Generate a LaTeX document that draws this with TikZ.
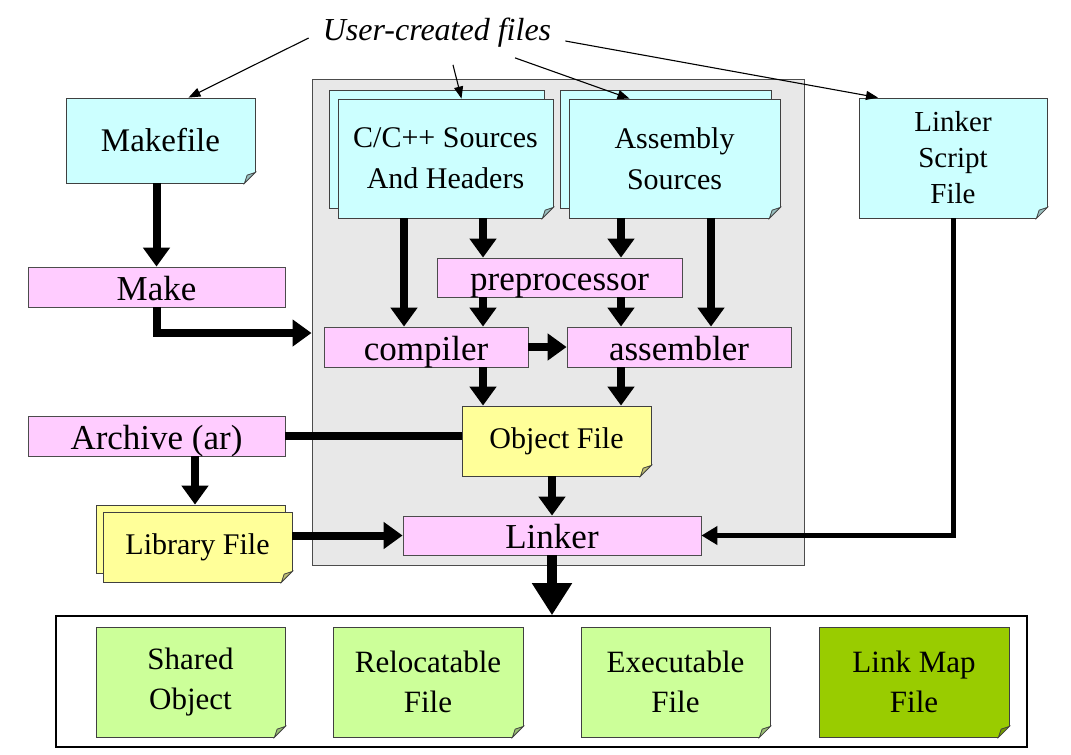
\documentclass[tikz,border=0pt]{standalone}
\usepackage{fontspec}
\setmainfont{Liberation Serif}
\usetikzlibrary{arrows.meta}

\definecolor{cyanf}{HTML}{CCFFFF}
\definecolor{pinkf}{HTML}{FFCCFF}
\definecolor{yellf}{HTML}{FFFF99}
\definecolor{grnf}{HTML}{CCFF99}
\definecolor{dgrnf}{HTML}{99CC00}
\definecolor{toolbg}{HTML}{E8E8E8}

\newlength\fw
\setlength\fw{11pt}

\tikzset{
  note/.style={draw=black!75, fill=#1, align=center, inner sep=0pt, line width=0.8pt,
    font=\fontsize{30}{41}\selectfont},
  tool/.style={draw=black!70, fill=pinkf, inner sep=0pt, line width=0.8pt,
    text height=26pt, text depth=0pt, font=\fontsize{35}{40}\selectfont},
  fat/.style={line width=8pt, -{Triangle[length=19pt,width=26pt]}},
  usr/.style={line width=1.1pt, -{Triangle[length=12pt,width=9pt]}}
}

\begin{document}
\begin{tikzpicture}[x=1pt,y=-1pt]
\useasboundingbox (0,0) rectangle (1071,755);

% tool chain area
\node[draw=black!70, line width=1pt, fill=toolbg, minimum width=492pt, minimum height=486pt] (tools) at (558,322) {};

\node[inner sep=4pt, font=\itshape\fontsize{32}{36}\selectfont] (ucf) at (437,33) {User-created files};

% user files
\node[note=cyanf, minimum width=189pt, minimum height=85pt, font=\fontsize{33}{40}\selectfont] (mkf) at (160.5,140.5) {Makefile};
\node[note=cyanf, minimum width=215pt, minimum height=118pt] (csrcb) at (436.5,149.5) {};
\node[note=cyanf, minimum width=215pt, minimum height=119pt] (csrc) at (445.5,158.5) {C/C++ Sources\\And Headers};
\node[note=cyanf, minimum width=211pt, minimum height=118pt] (asrcb) at (665.5,149.5) {};
\node[note=cyanf, minimum width=211pt, minimum height=119pt] (asrc) at (674.5,158.5) {Assembly\\Sources};
\node[note=cyanf, minimum width=188pt, minimum height=120pt, font=\fontsize{29}{36}\selectfont] (lsf) at (953,158) {Linker\\Script\\File};

% tools
\node[tool, minimum width=257pt, minimum height=40pt] (make) at (156.5,287) {Make};
\node[tool, minimum width=245pt, minimum height=39pt] (pre) at (559.5,277.5) {preprocessor};
\node[tool, minimum width=204pt, minimum height=40pt] (comp) at (426,347) {compiler};
\node[tool, minimum width=224pt, minimum height=40pt] (asm) at (679,347) {assembler};
\node[tool, minimum width=257pt, minimum height=40pt] (ar) at (156.5,436) {Archive (ar)};
\node[note=yellf, minimum width=189pt, minimum height=70pt] (obj) at (556.5,441) {Object File};
\node[note=yellf, minimum width=189pt, minimum height=68pt] (libb) at (190.5,539) {};
\node[note=yellf, minimum width=189pt, minimum height=70pt] (lib) at (197.5,547) {Library File};
\node[tool, minimum width=298pt, minimum height=39pt] (lnk) at (552,535.5) {Linker};

% outputs
\node[draw=black, line width=1.6pt, minimum width=971pt, minimum height=131pt] (outs) at (541.5,681.5) {};
\node[note=grnf, minimum width=189pt, minimum height=110pt, font=\fontsize{31}{40}\selectfont] (so) at (190.5,682) {Shared\\Object};
\node[note=grnf, minimum width=190pt, minimum height=110pt, font=\fontsize{31}{40}\selectfont] (ro) at (428,682) {Relocatable\\File};
\node[note=grnf, minimum width=189pt, minimum height=110pt, font=\fontsize{31}{40}\selectfont] (ex) at (675.5,682) {Executable\\File};
\node[note=dgrnf, minimum width=190pt, minimum height=110pt, font=\fontsize{31}{40}\selectfont] (lm) at (914,682) {Link Map\\File};

% folded corners
\foreach \n/\bg/\fc in {mkf/white/cyanf, csrc/toolbg/cyanf, asrc/toolbg/cyanf, lsf/white/cyanf,
    obj/toolbg/yellf, lib/white/yellf, so/white/grnf, ro/white/grnf, ex/white/grnf, lm/white/dgrnf} {
  \fill[\bg] ([xshift=-\fw-1pt,yshift=-1pt]\n.south east) -- ([xshift=1pt,yshift=-1pt]\n.south east)
    -- ([xshift=1pt,yshift=\fw+1pt]\n.south east) -- cycle;
  \filldraw[draw=black!75, line width=0.8pt, fill=\fc!75!black] ([xshift=-\fw]\n.south east)
    -- ([yshift=\fw]\n.south east) -- ([xshift=-0.75\fw,yshift=0.75\fw]\n.south east) -- cycle;
}

% user-created files
\draw[usr] ([xshift=-10pt,yshift=-5pt]ucf.west) -- ([xshift=28pt]mkf.north);
\draw[usr] ([xshift=16pt,yshift=-13pt]ucf.south) -- ([xshift=16pt]csrc.north);
\draw[usr] ([xshift=78pt,yshift=-6pt]ucf.south) -- ([xshift=-45pt]asrc.north);
\draw[usr] ([xshift=10pt,yshift=-8pt]ucf.east) -- ([xshift=-75pt]lsf.north);

% flow
\draw[fat] (mkf.south -| make.north) -- (make.north);
\draw[fat] (make.south) |- (tools.west |- 0,333);
\draw[fat] (csrc.south -| 404,0) -- (comp.north -| 404,0);
\draw[fat] (csrc.south -| 483,0) -- (pre.north -| 483,0);
\draw[fat] (asrc.south -| 621,0) -- (pre.north -| 621,0);
\draw[fat] (asrc.south -| 711,0) -- (asm.north -| 711,0);
\draw[fat] (pre.south -| 483,0) -- (comp.north -| 483,0);
\draw[fat] (pre.south -| 621,0) -- (asm.north -| 621,0);
\draw[fat] (comp.east) -- (asm.west);
\draw[fat] (comp.south -| 483,0) -- (obj.north -| 483,0);
\draw[fat] (asm.south -| 621,0) -- (obj.north -| 621,0);
\draw[line width=8pt] (ar.east) -- (obj.west |- ar.east);
\draw[fat] (ar.south -| 195,0) -- (libb.north -| 195,0);
\draw[fat] (lib.east |- lnk.west) -- (lnk.west);
\draw[fat] (obj.south -| lnk.north) -- (lnk.north);
\draw[line width=5pt, -{Triangle[length=16pt,width=18pt]}] (lsf.south) |- (lnk.east);
\draw[line width=10pt, -{Triangle[length=32pt,width=38pt]}] (lnk.south) -- (lnk.south |- outs.north);
\end{tikzpicture}
\end{document}
